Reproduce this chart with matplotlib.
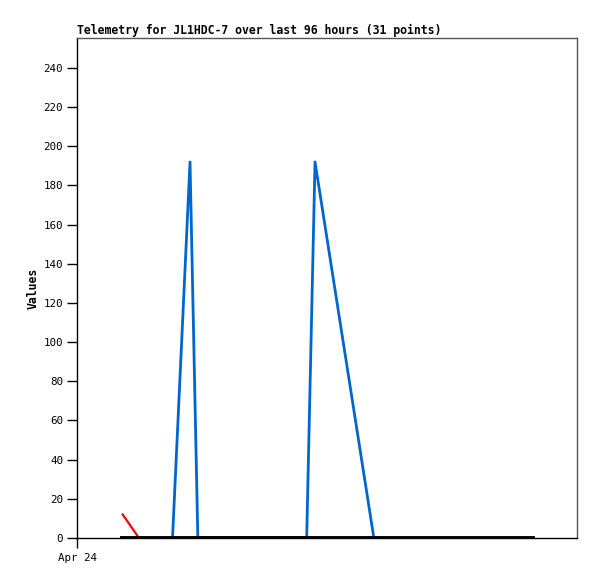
import numpy as np
import matplotlib.pyplot as plt

# hours since Apr 24 00:00 (x axis spans 96 hours)
red_t = [8.77, 11.9]
red_v = [12, 0]
black_t = [8.64, 87.55]
black_v = [0, 0]
blue_t = [18.34, 21.7, 23.2, 44.1, 45.7, 57.0]
blue_v = [0, 192, 0, 0, 192, 0]

x_ticks = [0]
x_labels = ['Apr 24']
y_ticks = list(range(0, 241, 20))

plt.rcParams['font.family'] = 'DejaVu Sans Mono'

fig = plt.figure(figsize=(5.97, 5.79), dpi=100)
ax = fig.add_axes([77 / 597, 41 / 579, 500 / 597, 500 / 579])

ax.plot(blue_t, blue_v, color='#0066cc', lw=2, zorder=2)
ax.plot(red_t, red_v, color='#ff0000', lw=1.6, zorder=3)
ax.plot(black_t, black_v, color='#000000', lw=2.8, zorder=4)

ax.set_xlim(0, 96)
ax.set_ylim(0, 255.3)
ax.set_xticks(x_ticks)
ax.set_xticklabels(x_labels)
ax.set_yticks(y_ticks)
ax.tick_params(axis='both', direction='out', length=7, width=1, labelsize=7.8, pad=3)
ax.tick_params(axis='x', pad=4)

for s in ['left', 'bottom']:
    ax.spines[s].set_color('black')
    ax.spines[s].set_linewidth(1)
for s in ['top', 'right']:
    ax.spines[s].set_color('#555555')
    ax.spines[s].set_linewidth(1)

ax.set_ylabel('Values', fontsize=8.3, fontweight='bold', labelpad=3)
ax.set_title('Telemetry for JL1HDC-7 over last 96 hours (31 points)',
             fontsize=8.3, fontweight='bold', loc='left', pad=3)

fig.savefig('out.png', dpi=100)
